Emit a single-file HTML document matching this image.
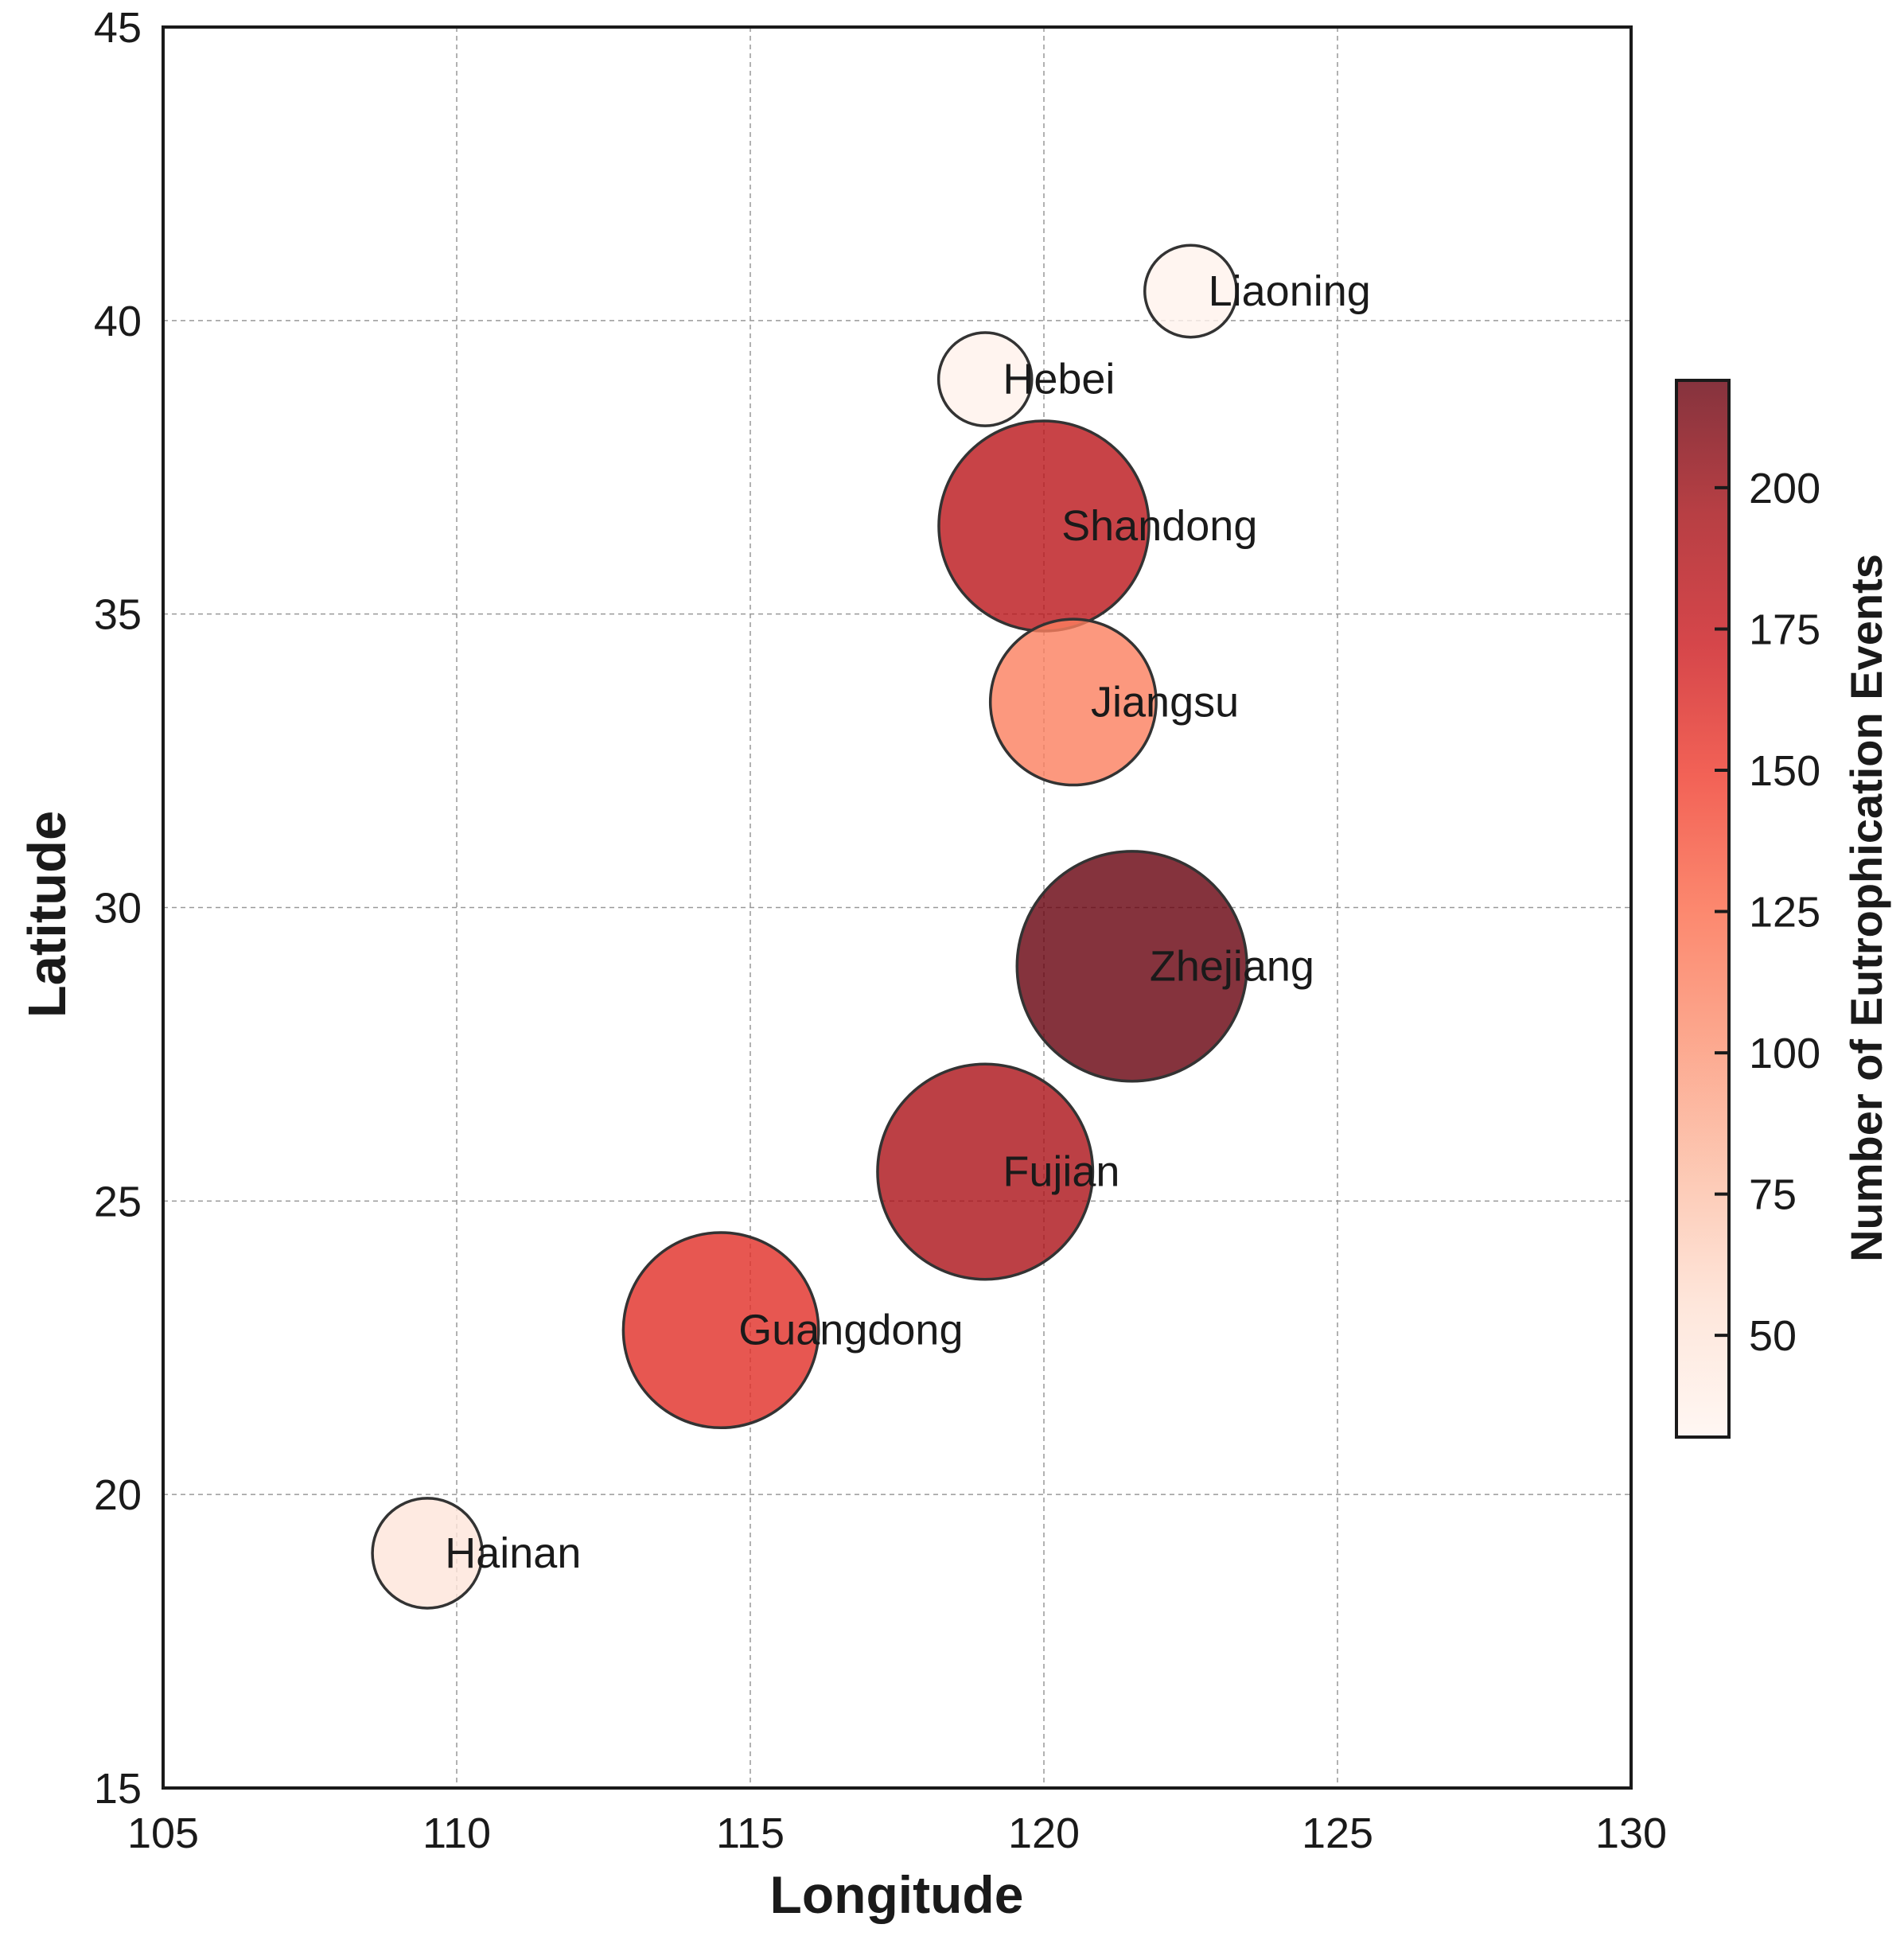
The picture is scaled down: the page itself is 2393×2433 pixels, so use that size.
<!DOCTYPE html>
<html><head><meta charset="utf-8"><style>
html,body{margin:0;padding:0;background:#fff;}
svg{display:block;font-family:"Liberation Sans",Arial,sans-serif;}
</style></head><body>
<svg id="chart" width="2393" height="2433" viewBox="0 0 2393 2433" xmlns="http://www.w3.org/2000/svg">
<defs>
<linearGradient id="cbgrad" x1="0" y1="1" x2="0" y2="0">
<stop offset="0" stop-color="#fff5f0"/><stop offset="0.125" stop-color="#fee0d2"/><stop offset="0.25" stop-color="#fcbba1"/><stop offset="0.375" stop-color="#fc9272"/><stop offset="0.5" stop-color="#fb6a4a"/><stop offset="0.625" stop-color="#ef3b2c"/><stop offset="0.75" stop-color="#cb181d"/><stop offset="0.875" stop-color="#a50f15"/><stop offset="1" stop-color="#67000d"/>
</linearGradient>
</defs>
<g id="grid"></g>
<g id="marks"></g>
<g id="labels"></g>
<rect x="205" y="34" width="1845" height="2213" fill="none" stroke="#1a1a1a" stroke-width="4"/>
<g id="xticks"></g>
<g id="yticks"></g>
<text x="1127" y="2404" text-anchor="middle" font-size="66" font-weight="bold" fill="#1a1a1a">Longitude</text>
<text transform="translate(82,1149) rotate(-90)" text-anchor="middle" font-size="67" font-weight="bold" fill="#1a1a1a">Latitude</text>
<g id="colorbar">
<rect x="2107" y="478" width="66" height="1328" fill="url(#cbgrad)" opacity="0.8"/>
<rect x="2107" y="478" width="66" height="1328" fill="none" stroke="#1a1a1a" stroke-width="4"/>
</g>
<g id="cbticks"></g>
<text transform="translate(2365,1141) rotate(-90)" text-anchor="middle" font-size="56" font-weight="bold" fill="#1a1a1a">Number of Eutrophication Events</text>
</svg>
<script>
const provinces = ["Liaoning","Hebei","Shandong","Jiangsu","Zhejiang","Fujian","Guangdong","Hainan"];
const lons = [122.5,119,120,120.5,121.5,119,114.5,109.5];
const lats = [40.5,39,36.5,33.5,29,25.5,22.8,19];
const events = [35,36,183,114,219,192,158,50];
const xTicks = [105,110,115,120,125,130];
const yTicks = [15,20,25,30,35,40,45];
const cbTicks = [50,75,100,125,150,175,200];

const NS="http://www.w3.org/2000/svg";
const L=205,R=2050,T=34,B=2247;
const X=v=>L+(v-105)/25*(R-L);
const Y=v=>B-(v-15)/30*(B-T);
const cMin=32,cMax=219,cbTop=478,cbBot=1806;
const CY=v=>cbBot-(v-cMin)/(cMax-cMin)*(cbBot-cbTop);
const stops=["#fff5f0","#fee0d2","#fcbba1","#fc9272","#fb6a4a","#ef3b2c","#cb181d","#a50f15","#67000d"].map(h=>[1,3,5].map(i=>parseInt(h.substr(i,2),16)));
function cmap(v){let t=Math.max(0,Math.min(1,(v-cMin)/(cMax-cMin)))*8;let i=Math.min(7,Math.floor(t));let f=t-i;
 const c=stops[i].map((a,k)=>Math.round(a+(stops[i+1][k]-a)*f));return `rgb(${c[0]},${c[1]},${c[2]})`;}
function mk(tag,attrs,parent){const e=document.createElementNS(NS,tag);for(const k in attrs)e.setAttribute(k,attrs[k]);parent.appendChild(e);return e;}
const grid=document.getElementById('grid');
xTicks.slice(1,-1).forEach(v=>{const l=mk('line',{x1:X(v),x2:X(v),y1:T,y2:B,stroke:'#999','stroke-width':1.5,'stroke-dasharray':'6,5'},grid);

});
yTicks.slice(1,-1).forEach(v=>{const l=mk('line',{x1:L,x2:R,y1:Y(v),y2:Y(v),stroke:'#999','stroke-width':1.5,'stroke-dasharray':'6,5'},grid);

});
const marks=document.getElementById('marks'),labels=document.getElementById('labels');
provinces.forEach((p,i)=>{
 const c=mk('circle',{cx:X(lons[i]),cy:Y(lats[i]),r:Math.sqrt(events[i])*9.76,fill:cmap(events[i]),'fill-opacity':0.8,stroke:'#333','stroke-width':3.5},marks);
 
 
 const t=mk('text',{x:X(lons[i]+0.3),y:Y(lats[i])+18,'font-size':54,fill:'#1a1a1a'},labels);
 t.textContent=p;
 
 
});
const xt=document.getElementById('xticks');
xTicks.forEach(v=>{const t=mk('text',{x:X(v),y:2322,'text-anchor':'middle','font-size':54,fill:'#1a1a1a'},xt);t.textContent=v;

});
const yt=document.getElementById('yticks');
yTicks.forEach(v=>{const t=mk('text',{x:178,y:Y(v)+19,'text-anchor':'end','font-size':54,fill:'#1a1a1a'},yt);t.textContent=v;

});
const cbt=document.getElementById('cbticks');
cbTicks.forEach(v=>{const l=mk('line',{x1:2155,x2:2173,y1:CY(v),y2:CY(v),stroke:'#1a1a1a','stroke-width':4},cbt);


const t=mk('text',{x:2198,y:CY(v)+19,'font-size':54,fill:'#1a1a1a'},cbt);t.textContent=v;

});
</script>
</body></html>
